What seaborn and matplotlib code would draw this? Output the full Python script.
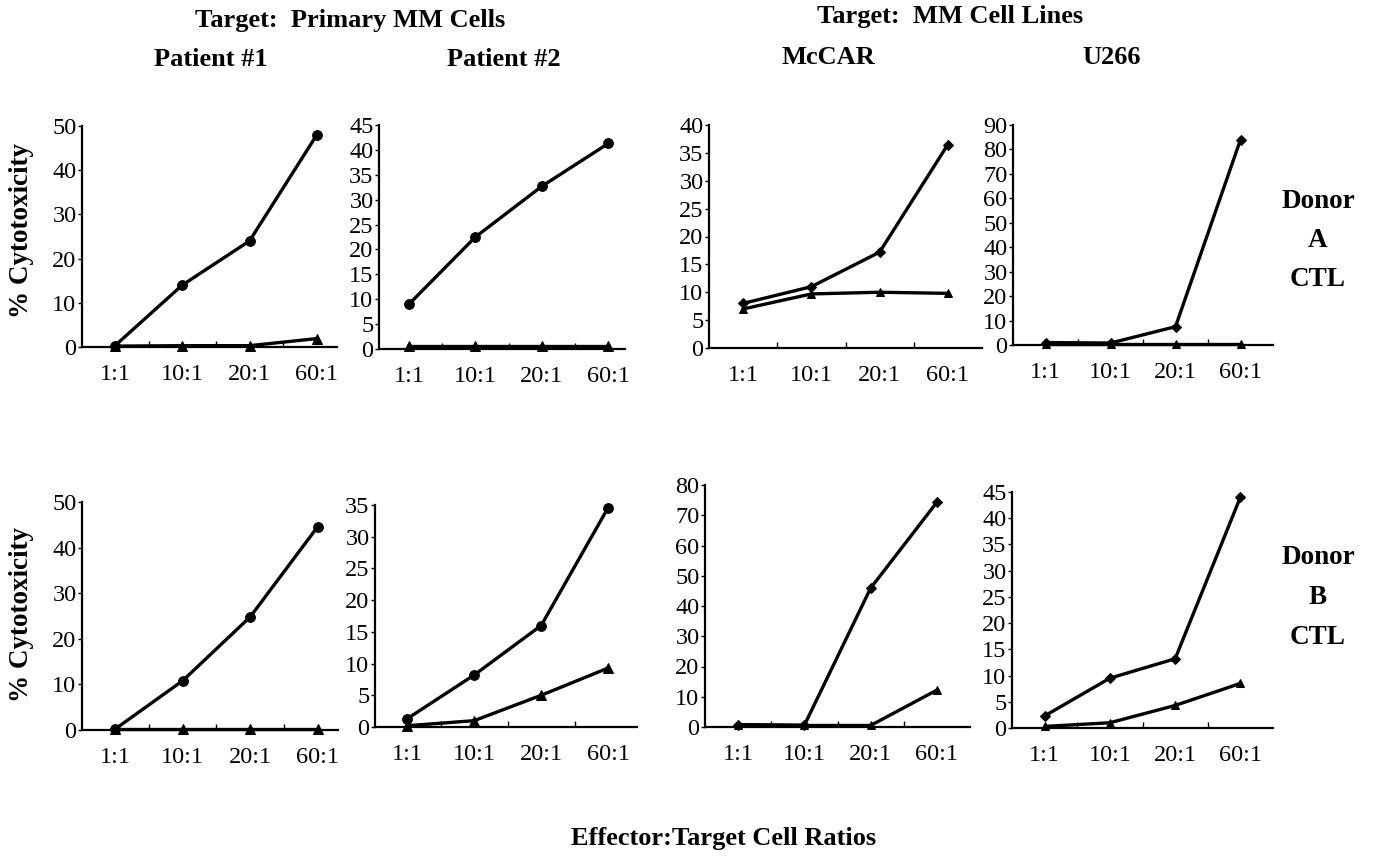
import numpy as np
import pandas as pd
import seaborn as sns
import matplotlib
matplotlib.use("Agg")
import matplotlib.pyplot as plt

sns.set_theme(style="ticks")
plt.rcParams['font.family'] = ['Liberation Serif', 'DejaVu Serif']
plt.rcParams['text.color'] = 'black'
plt.rcParams['xtick.color'] = 'black'
plt.rcParams['ytick.color'] = 'black'
plt.rcParams['axes.labelcolor'] = 'black'

ratios = ["1:1", "10:1", "20:1", "60:1"]

# Donor A CTL
p1_a_circle = [0.3, 14.0, 24.0, 48.0]
p1_a_tri = [0.2, 0.3, 0.3, 1.9]
p2_a_circle = [9.0, 22.5, 32.7, 41.3]
p2_a_tri = [0.6, 0.6, 0.6, 0.6]
mccar_a_diam = [8.0, 11.0, 17.2, 36.5]
mccar_a_tri = [7.0, 9.7, 10.0, 9.8]
u266_a_diam = [1.0, 0.8, 7.5, 84.0]
u266_a_tri = [0.5, 0.5, 0.5, 0.5]

# Donor B CTL
p1_b_circle = [0.2, 10.8, 24.8, 44.6]
p1_b_tri = [0.3, 0.3, 0.3, 0.3]
p2_b_circle = [1.3, 8.2, 16.0, 34.6]
p2_b_tri = [0.2, 1.0, 5.0, 9.3]
mccar_b_diam = [0.8, 0.6, 45.9, 74.3]
mccar_b_tri = [0.5, 0.5, 0.5, 12.2]
u266_b_diam = [2.3, 9.5, 13.2, 44.0]
u266_b_tri = [0.3, 1.0, 4.3, 8.5]

W, H = 1375, 857
fig = plt.figure(figsize=(W / 100, H / 100), dpi=100)

panels = [
    # (left, right, top, bottom px), xlim, ymax, ystep, series, top marker
    ((82, 337, 126, 347), (-0.49, 3.3), 50, 10, p1_a_circle, p1_a_tri, "o"),
    ((379, 625, 125, 349), (-0.45, 3.25), 45, 5, p2_a_circle, p2_a_tri, "o"),
    ((709, 982, 125, 348), (-0.5, 3.5), 40, 5, mccar_a_diam, mccar_a_tri, "D"),
    ((1013, 1273, 125, 345), (-0.5, 3.5), 90, 10, u266_a_diam, u266_a_tri, "D"),
    ((82, 338, 502, 730), (-0.49, 3.3), 50, 10, p1_b_circle, p1_b_tri, "o"),
    ((375, 637, 505, 727), (-0.48, 3.43), 35, 5, p2_b_circle, p2_b_tri, "o"),
    ((705, 970, 485, 727), (-0.5, 3.5), 80, 10, mccar_b_diam, mccar_b_tri, "D"),
    ((1012, 1273, 492, 728), (-0.5, 3.5), 45, 5, u266_b_diam, u266_b_tri, "D"),
]

for (l, r, t, b), xl, ymax, ystep, s1, s2, mk in panels:
    ax = fig.add_axes([l / W, 1 - b / H, (r - l) / W, (b - t) / H])
    df = pd.DataFrame({
        "pos": list(range(len(ratios))) * 2,
        "val": list(s1) + list(s2),
        "series": ["top"] * len(ratios) + ["tri"] * len(ratios),
    })
    sns.lineplot(data=df, x="pos", y="val", hue="series", style="series",
                 palette={"top": "black", "tri": "black"},
                 markers={"top": mk, "tri": "^"}, dashes=False,
                 linewidth=2.4, markersize=7 if mk == "o" else 5.5,
                 markeredgecolor="black", legend=False, ax=ax, clip_on=False)
    ax.set_xlim(*xl)
    ax.set_ylim(0, ymax)
    ax.set_yticks(np.arange(0, ymax + 0.1, ystep))
    ax.set_xticks(range(len(ratios)))
    ax.set_xticklabels(ratios)
    ax.set_xticks([0.5, 1.5, 2.5], minor=True)
    ax.tick_params(axis="x", which="major", length=0, pad=12, labelsize=17.5)
    ax.tick_params(axis="x", which="minor", length=4, direction="in", width=1)
    ax.tick_params(axis="y", length=3, width=1, pad=1, labelsize=17.5)
    ax.set_xlabel("")
    ax.set_ylabel("")
    for sp in ["top", "right"]:
        ax.spines[sp].set_visible(False)
    for sp in ["left", "bottom"]:
        ax.spines[sp].set_linewidth(1.6)
        ax.spines[sp].set_color("black")
    ax.set_facecolor("none")

def ftxt(x, y, s, size=19, **kw):
    fig.text(x / W, 1 - y / H, s, ha="center", va="center",
             fontsize=size, fontweight="bold", **kw)

ftxt(350, 20, "Target:  Primary MM Cells")
ftxt(950, 16, "Target:  MM Cell Lines")
ftxt(211, 60, "Patient #1")
ftxt(504, 60, "Patient #2")
ftxt(828, 57, "McCAR")
ftxt(1112, 57, "U266")
for i, s in enumerate(["Donor", "A", "CTL"]):
    ftxt(1318, 201 + 39.5 * i, s, size=19.5)
for i, s in enumerate(["Donor", "B", "CTL"]):
    ftxt(1318, 558 + 39.5 * i, s, size=19.5)
ftxt(22, 231, "% Cytotoxicity", size=19.5, rotation=90)
ftxt(22, 615, "% Cytotoxicity", size=19.5, rotation=90)
ftxt(724, 839, "Effector:Target Cell Ratios", size=19)

fig.savefig("out.png", dpi=100, facecolor="white")
